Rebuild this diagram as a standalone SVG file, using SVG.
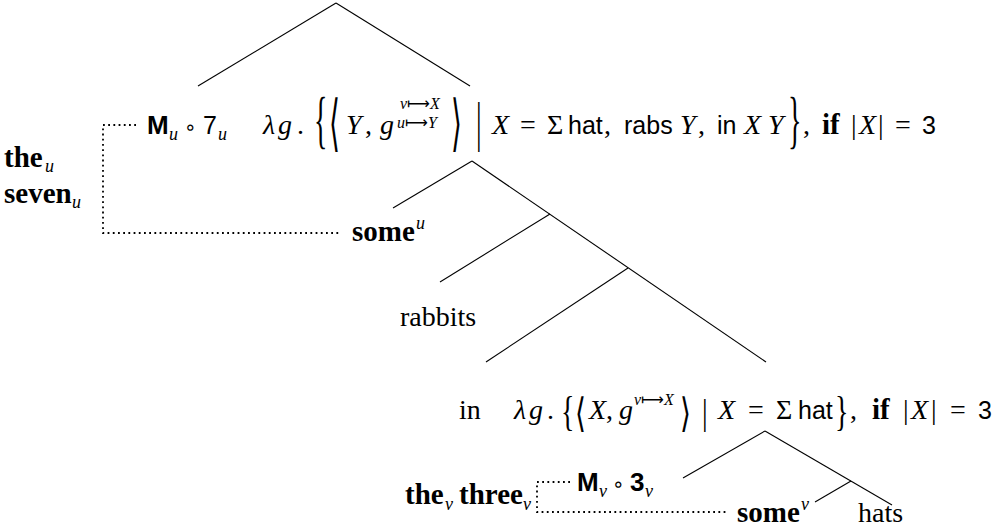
<svg xmlns="http://www.w3.org/2000/svg" width="1005" height="532" viewBox="0 0 1005 532">
<style>
.ln{stroke:#000;stroke-width:1.1;fill:none}
.dt{stroke:#000;stroke-width:1.8;stroke-dasharray:1.8 3.4;fill:none}
text{fill:#000}
.rm{font-family:"Liberation Serif",serif;font-size:28px}
.it{font-family:"Liberation Serif",serif;font-style:italic;font-size:28px}
.bf{font-family:"Liberation Serif",serif;font-weight:bold;font-size:29px}
.sf{font-family:"Liberation Sans",sans-serif;font-size:25px}
.sfb{font-family:"Liberation Sans",sans-serif;font-weight:bold;font-size:26px}
.sub{font-family:"Liberation Serif",serif;font-style:italic;font-weight:normal;font-size:18px}
.sup{font-family:"Liberation Serif",serif;font-style:italic;font-size:16px}
.ar{font-family:"DejaVu Sans",sans-serif;font-style:normal;font-size:16px}
.op{font-family:"DejaVu Sans",sans-serif;font-size:20px}
.dl{font-family:"Liberation Serif",serif;font-size:28px}
.da{font-family:"DejaVu Sans",sans-serif;font-size:28px}
</style>
<g id="connectors">
<line class="ln" x1="336" y1="3" x2="198" y2="86"/>
<line class="ln" x1="336" y1="3" x2="470" y2="86"/>
<line class="ln" x1="472" y1="161" x2="393" y2="208"/>
<line class="ln" x1="472" y1="161" x2="766" y2="362"/>
<line class="ln" x1="550" y1="214" x2="440" y2="282"/>
<line class="ln" x1="628" y1="268" x2="486" y2="362"/>
<line class="ln" x1="765" y1="431" x2="683" y2="478"/>
<line class="ln" x1="765" y1="431" x2="892" y2="505"/>
<line class="ln" x1="851" y1="481" x2="815" y2="502"/>
<path class="dt" d="M136 125 H103 V233 H340"/>
<path class="dt" d="M570 482 H537 V512 H727"/>
</g>
<g id="n-the-seven">
<text class="bf" x="4" y="167">the<tspan class="sub" x="45" y="172">u</tspan></text>
<text class="bf" x="4" y="203">seven<tspan class="sub" x="72" y="208">u</tspan></text>
</g>
<g id="n-mu">
<text class="sfb" x="147" y="134">M</text>
<text class="sub" x="169" y="140">u</text>
<text class="op" x="184" y="134">∘</text>
<text class="sf" x="203" y="134">7</text>
<text class="sub" x="218" y="140">u</text>
</g>
<g id="n-lambda1">
<text class="it" x="263" y="134">λ</text>
<text class="it" x="278" y="134">g</text>
<text class="rm" x="297" y="134">.</text>
<text class="dl" transform="translate(314,124.5) scale(1,2.3)" y="7">{</text>
<text class="da" transform="translate(329,124.5) scale(1,2.2)" y="8.7">⟨</text>
<text class="it" x="346" y="134">Y</text>
<text class="rm" x="365" y="134">,</text>
<text class="it" x="380" y="134">g</text>
<text class="sup" x="400" y="109">ν<tspan class="ar">⟼</tspan>X</text>
<text class="sup" x="397" y="128">u<tspan class="ar">⟼</tspan>Y</text>
<text class="da" transform="translate(451,124.5) scale(1,2.2)" y="8.7">⟩</text>
<text class="dl" transform="translate(476,124.5) scale(1,1.95)" y="7.8">|</text>
<text class="it" x="492" y="134">X</text>
<text class="rm" x="520" y="134">=</text>
<text class="rm" x="547" y="134">Σ</text>
<text class="sf" x="568" y="134">hat</text>
<text class="rm" x="604" y="134">,</text>
<text class="sf" x="624" y="134">rabs</text>
<text class="it" x="680" y="134">Y</text>
<text class="rm" x="698" y="134">,</text>
<text class="sf" x="717" y="134">in</text>
<text class="it" x="744" y="134">X</text>
<text class="it" x="768" y="134">Y</text>
<text class="dl" transform="translate(788,124.5) scale(1,2.3)" y="7">}</text>
<text class="rm" x="803" y="134">,</text>
<text class="bf" x="822" y="134">if</text>
<text class="rm" x="851" y="134">|</text>
<text class="it" x="859" y="134">X</text>
<text class="rm" x="878" y="134">|</text>
<text class="rm" x="895" y="134">=</text>
<text class="sf" x="922" y="134">3</text>
</g>
<g id="n-someu">
<text class="bf" x="352" y="241">some<tspan class="sub" x="416" y="229">u</tspan></text>
</g>
<g id="n-rabbits">
<text class="rm" x="400" y="326">rabbits</text>
</g>
<g id="n-in">
<text class="rm" x="459" y="419">in</text>
</g>
<g id="n-lambda2">
<text class="it" x="514" y="419">λ</text>
<text class="it" x="529" y="419">g</text>
<text class="rm" x="547" y="419">.</text>
<text class="dl" transform="translate(561,414) scale(1,1.5)" y="7">{</text>
<text class="da" transform="translate(575,414) scale(1,1.44)" y="8.7">⟨</text>
<text class="it" x="589" y="419">X</text>
<text class="rm" x="606" y="419">,</text>
<text class="it" x="619" y="419">g</text>
<text class="sup" x="634" y="405">ν<tspan class="ar">⟼</tspan>X</text>
<text class="da" transform="translate(680,414) scale(1,1.44)" y="8.7">⟩</text>
<text class="dl" transform="translate(702,414) scale(1,1.28)" y="7.8">|</text>
<text class="it" x="718" y="419">X</text>
<text class="rm" x="748" y="419">=</text>
<text class="rm" x="776" y="419">Σ</text>
<text class="sf" x="798" y="419">hat</text>
<text class="dl" transform="translate(835,414) scale(1,1.5)" y="7">}</text>
<text class="rm" x="850" y="419">,</text>
<text class="bf" x="872" y="419">if</text>
<text class="rm" x="903" y="419">|</text>
<text class="it" x="911" y="419">X</text>
<text class="rm" x="931" y="419">|</text>
<text class="rm" x="950" y="419">=</text>
<text class="sf" x="978" y="419">3</text>
</g>
<g id="n-the-three">
<text class="bf" x="405" y="504">the<tspan class="sub" x="445" y="510">ν</tspan><tspan x="459" y="504">three</tspan><tspan class="sub" x="523" y="510">ν</tspan></text>
</g>
<g id="n-mnu">
<text class="sfb" x="577" y="491">M</text>
<text class="sub" x="599" y="497">ν</text>
<text class="op" x="612" y="491">∘</text>
<text class="sfb" x="630" y="491">3</text>
<text class="sub" x="645" y="497">ν</text>
</g>
<g id="n-somenu">
<text class="bf" x="737" y="522">some<tspan class="sub" x="801" y="510">ν</tspan></text>
</g>
<g id="n-hats">
<text class="rm" x="858" y="522">hats</text>
</g>
</svg>
